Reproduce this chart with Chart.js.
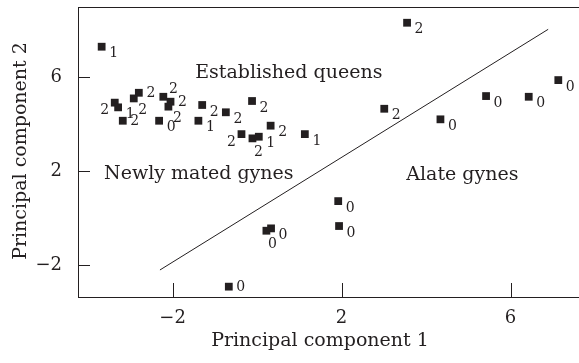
<!DOCTYPE html>
<html>
<head>
<meta charset="utf-8">
<script src="https://cdn.jsdelivr.net/npm/chart.js@4.4.1/dist/chart.umd.min.js"></script>
<style>
  html, body { margin: 0; padding: 0; background: #fff; }
  #wrap { width: 579px; height: 363px; }
</style>
</head>
<body>
<div id="wrap"><canvas id="pcaPlot"></canvas></div>
<script>
// PCA scores, one entry per colony
const pc1 = [-3.68, -3.37, -3.29, -3.18, -2.92, -2.80, -2.32, -2.22, -2.05, -2.10,
             -1.30, -1.39, -0.74, -0.12, -0.37, -0.11, 0.04, 0.32, 1.13, 3.55,
             3.01, 4.34, 5.42, 6.43, 7.13, 1.92, 1.94, 0.33, 0.22, -0.67];
const pc2 = [7.29, 4.91, 4.71, 4.14, 5.09, 5.33, 4.14, 5.16, 4.95, 4.74,
             4.81, 4.14, 4.50, 4.98, 3.57, 3.39, 3.46, 3.93, 3.57, 8.31,
             4.65, 4.20, 5.19, 5.16, 5.87, 0.72, -0.34, -0.44, -0.54, -2.92];
const groupLabel = [1, 2, 1, 2, 2, 2, 0, 2, 2, 2,
                    2, 1, 2, 2, 2, 2, 1, 2, 1, 2,
                    2, 0, 0, 0, 0, 0, 0, 0, 0, 0];
// where the little number sits next to its square
const labelSide = ['r', 'l', 'r', 'e', 'd', 'e', 'r', 't', 'e', 'd',
                   'r', 'r', 'r', 'r', 'l', 'b', 'r', 'r', 'r', 'r',
                   'r', 'r', 'r', 'r', 'r', 'r', 'r', 'r', 'b', 'e'];

// discriminating line
const boundaryX = [-2.30, 6.89];
const boundaryY = [-2.21, 8.03];

const regionNames = ['Established queens', 'Newly mated gynes', 'Alate gynes'];
const regionX = [0.75, -1.38, 4.86];
const regionY = [5.96, 1.66, 1.62];

const xTicks = [-2, 2, 6];
const yTicks = [-2, 2, 6];

const ink = '#231f20';
const serif = '"DejaVu Serif", "Liberation Serif", serif';

const sideOffset = {
    r: [12, 7], l: [-10, 8], b: [6, 14], t: [10, -7], e: [12, 1], d: [9, 12]
};

function fmt(v) {
    return v < 0 ? '\u2212' + Math.abs(v) : String(v);
}

const decorPlugin = {
    id: 'decorPlugin',
    afterDraw: (chart) => {
        const {ctx, chartArea: {top, bottom, left, right}, scales: {x, y}} = chart;
        ctx.save();
        ctx.strokeStyle = ink;
        ctx.lineWidth = 1;

        // top rule
        ctx.beginPath();
        ctx.moveTo(left, top + 0.5);
        ctx.lineTo(right, top + 0.5);
        ctx.stroke();

        // inward tick marks
        ctx.beginPath();
        xTicks.forEach(v => {
            const px = Math.round(x.getPixelForValue(v)) + 0.5;
            ctx.moveTo(px, bottom);
            ctx.lineTo(px, bottom - 14);
        });
        yTicks.forEach(v => {
            const py = Math.round(y.getPixelForValue(v)) + 0.5;
            ctx.moveTo(left, py);
            ctx.lineTo(left + 12, py);
        });
        ctx.stroke();

        // group numbers next to points
        ctx.fillStyle = ink;
        ctx.font = '14px ' + serif;
        ctx.textAlign = 'center';
        ctx.textBaseline = 'middle';
        pc1.forEach((v, i) => {
            const off = sideOffset[labelSide[i]];
            ctx.fillText(String(groupLabel[i]),
                x.getPixelForValue(v) + off[0],
                y.getPixelForValue(pc2[i]) + off[1]);
        });

        // region names
        ctx.font = '19px ' + serif;
        ctx.textBaseline = 'alphabetic';
        regionNames.forEach((name, i) => {
            ctx.fillText(name, x.getPixelForValue(regionX[i]), y.getPixelForValue(regionY[i]));
        });

        // axis titles
        ctx.textBaseline = 'middle';
        ctx.fillText('Principal component 1', 320, 341);
        ctx.translate(21, 151);
        ctx.rotate(-Math.PI / 2);
        ctx.fillText('Principal component 2', 0, 0);
        ctx.restore();
    }
};

const pcaChart = new Chart(document.getElementById('pcaPlot'), {
    data: {
        datasets: [{
            type: 'scatter',
            data: pc1.map((v, i) => ({x: v, y: pc2[i]})),
            pointStyle: 'rect',
            pointRadius: 5.5,
            backgroundColor: ink,
            borderWidth: 0
        }, {
            type: 'line',
            data: boundaryX.map((v, i) => ({x: v, y: boundaryY[i]})),
            borderColor: ink,
            borderWidth: 1,
            pointRadius: 0,
            fill: false
        }]
    },
    options: {
        responsive: true,
        maintainAspectRatio: false,
        animation: false,
        layout: {autoPadding: false, padding: {top: 7, right: 0, left: 0, bottom: 0}},
        plugins: {
            legend: {display: false},
            tooltip: {enabled: false}
        },
        scales: {
            x: {
                type: 'linear',
                min: -4.24,
                max: 7.62,
                afterBuildTicks: (s) => { s.ticks = xTicks.map(v => ({value: v})); },
                afterFit: (s) => { s.height = 66; s.paddingLeft = 0; s.paddingRight = 0; },
                grid: {display: false},
                border: {display: true, color: ink, width: 1},
                ticks: {
                    color: ink,
                    padding: 3,
                    font: {family: serif, size: 18},
                    maxRotation: 0,
                    callback: (v) => fmt(v)
                }
            },
            y: {
                type: 'linear',
                min: -3.36,
                max: 8.98,
                afterBuildTicks: (s) => { s.ticks = yTicks.map(v => ({value: v})); },
                afterFit: (s) => { s.width = 78; s.paddingTop = 0; s.paddingBottom = 0; },
                grid: {display: false},
                border: {display: true, color: ink, width: 1},
                ticks: {
                    color: ink,
                    padding: 8,
                    font: {family: serif, size: 18},
                    callback: (v) => fmt(v)
                }
            }
        }
    },
    plugins: [decorPlugin]
});
</script>
</body>
</html>
